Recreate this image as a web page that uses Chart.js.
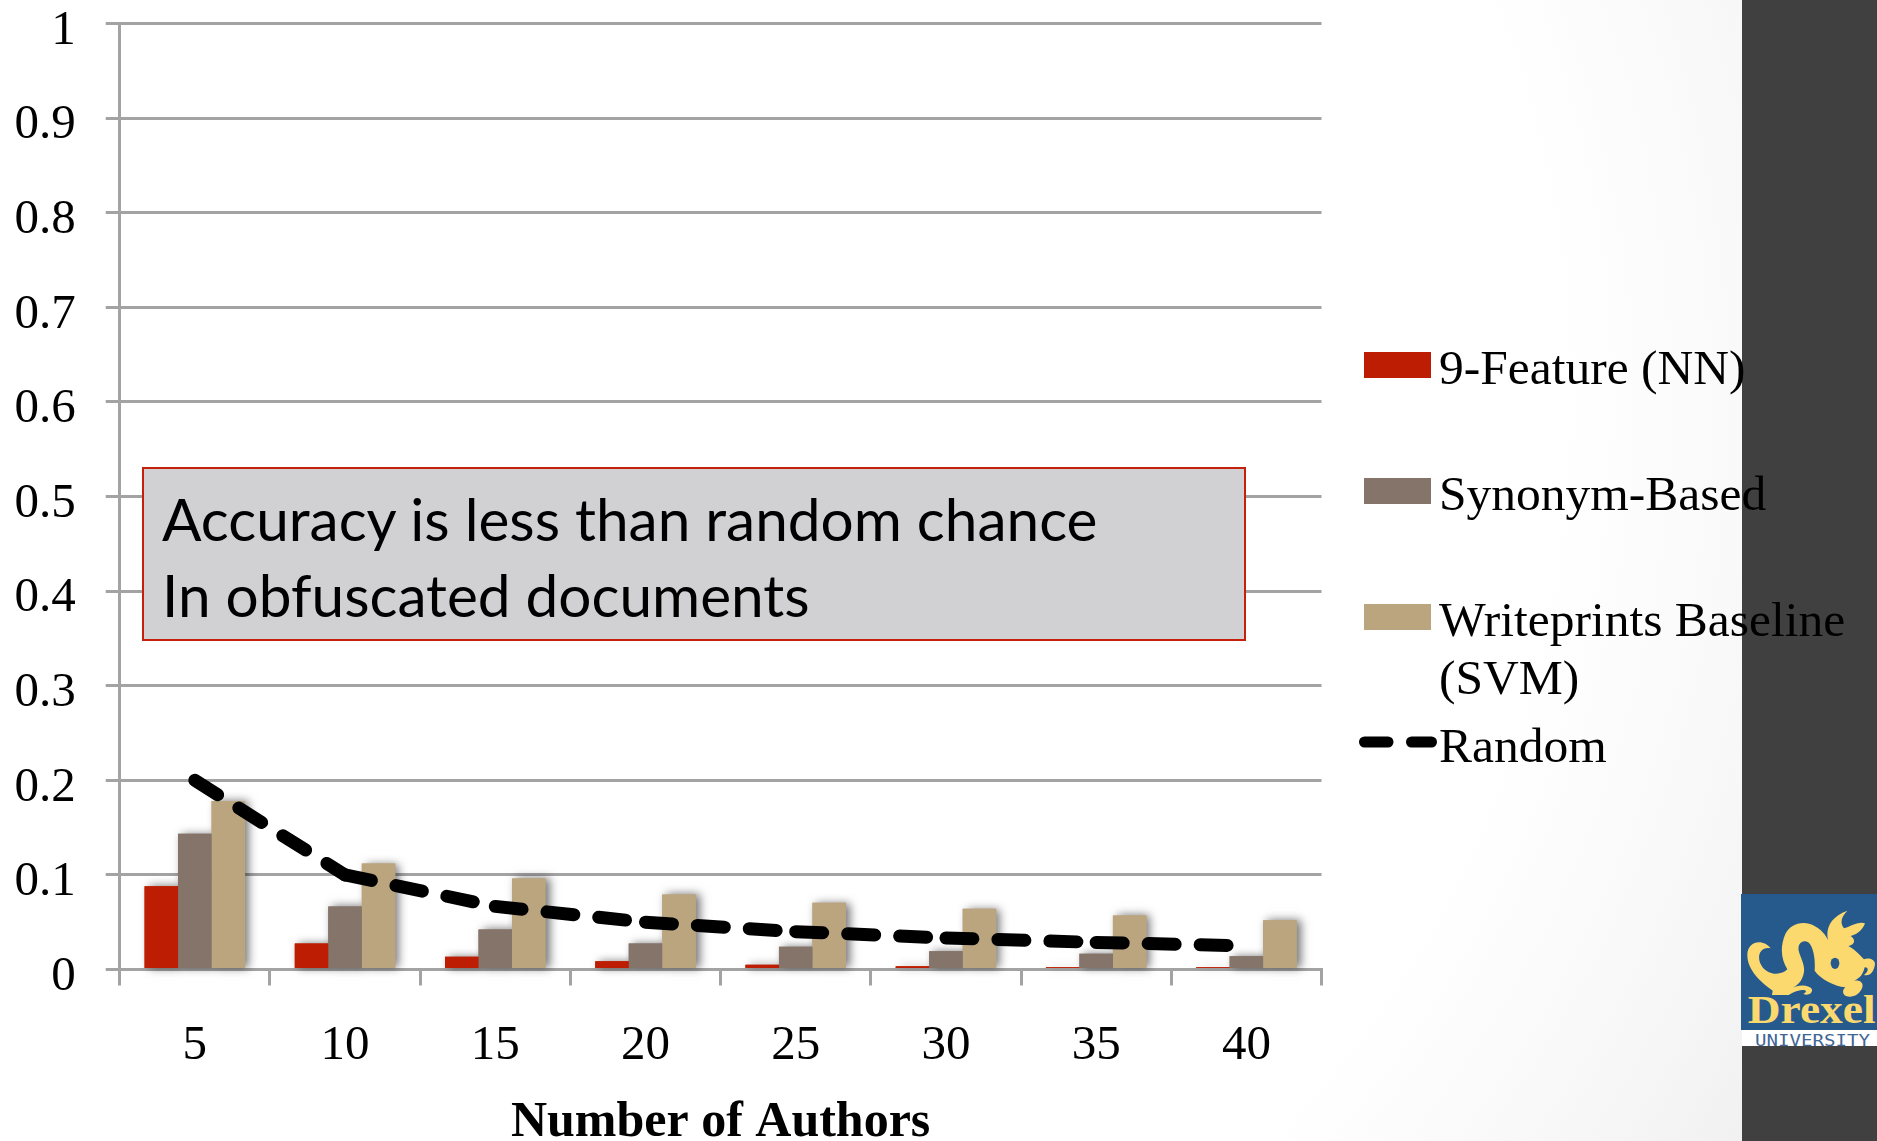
<!DOCTYPE html>
<html>
<head>
<meta charset="utf-8">
<title>Number of Authors</title>
<script src="https://cdn.jsdelivr.net/npm/chart.js@4"></script>
<style>
  html, body { margin: 0; padding: 0; }
  body {
    width: 1877px; height: 1141px; overflow: hidden; position: relative;
    background: radial-gradient(circle 1560px at 500px 400px, #fff 0, #fff 68%, #f8f8f8 82%, #ececec 100%);
  }
  #sidebar { position: absolute; left: 1742px; top: 0; width: 135px; height: 1141px; background: #404040; }
  #logo { position: absolute; left: 1741px; top: 894px; width: 136px; height: 152px; }
  #myChart { position: absolute; left: 0; top: 0; }
  #note {
    position: absolute; left: 142px; top: 467px; width: 1100px; height: 170px;
    background: #d1d1d4; border: 2px solid #c5200c;
    font: 58.500px Lato, sans-serif; color: #000; line-height: 76px;
  }
  #note div { position: absolute; left: 18px; white-space: nowrap; }
  .legend-text {
    position: absolute; left: 1439px; font: 49.500px/58px "Liberation Serif", serif;
    color: #000; white-space: nowrap;
  }
  .legend-box { position: absolute; left: 1364px; width: 67px; height: 26px; }
</style>
</head>
<body>
<div id="sidebar"></div>
<svg id="logo" viewBox="123 102 408 456">
  <rect x="123" y="102" width="408" height="408" fill="#265a8c"/>
  <rect x="126" y="510" width="405" height="48" fill="#fff"/>
  <path fill="#fbd96f" d="M212 265 C188 258 170 280 180 308 C195 345 240 350 262 328 C245 300 238 265 256 222
    C268 196 300 182 330 192 C352 200 372 215 384 240 C376 205 392 170 442 152 C422 172 420 190 432 205
    C450 200 475 182 495 190 C488 208 476 222 452 228 C470 240 462 255 445 258 C470 272 482 288 492 298
    C505 292 525 298 525 312 C522 335 510 350 492 345 C505 335 508 322 494 322 C488 345 480 355 462 362
    C482 358 492 370 486 385 C478 405 455 415 438 408 C425 402 428 388 436 382 C402 378 362 358 344 332
    C346 300 342 268 328 250 C312 236 292 248 296 272 C304 300 318 318 310 345 C302 372 285 380 270 388
    C290 374 325 372 336 388 C338 402 322 408 310 402 C322 396 320 388 305 390 C290 392 278 398 266 405
    L216 405 L218 392 C185 368 142 332 142 285 C142 240 192 236 212 265 Z"/>
  <ellipse cx="405" cy="310" rx="13" ry="17" fill="#265a8c"/>
  <text x="143" y="490" font-family="Liberation Serif, serif" font-weight="bold" font-size="118"
        fill="#fbd96f" textLength="384" lengthAdjust="spacingAndGlyphs">Drexel</text>
  <text x="165" y="557" font-family="DejaVu Sans Mono, monospace" font-size="46"
        fill="#3f6694" textLength="345" lengthAdjust="spacingAndGlyphs">UNIVERSITY</text>
</svg>
<canvas id="myChart" width="1877" height="1141"></canvas>
<div id="note">
  <div style="top:11px">Accuracy is less than random chance</div>
  <div style="top:87px">In obfuscated documents</div>
</div>
<div id="legend"></div>

<script>
const authors = ['5', '10', '15', '20', '25', '30', '35', '40'];
const yLabels = ['0', '0.1', '0.2', '0.3', '0.4', '0.5', '0.6', '0.7', '0.8', '0.9', '1'];

const nineFeature = [0.088, 0.0275, 0.0134, 0.0088, 0.005, 0.0035, 0.0025, 0.0025];
const synonymBased = [0.1436, 0.0667, 0.0423, 0.0275, 0.024, 0.0194, 0.0166, 0.0141];
const writeprints = [0.178, 0.112, 0.0963, 0.0794, 0.0705, 0.0641, 0.0571, 0.0521];
const randomChance = [0.2, 0.1, 0.0667, 0.05, 0.04, 0.0333, 0.0286, 0.025];

const axisGray = '#a3a3a3';
const red = '#bd1e03';
const brown = '#85746a';
const tan = '#baa57f';

// soft drop shadow: a first pass under all the bars, so no bar shades its neighbour
const barShadow = {
  id: 'barShadow',
  beforeDatasetsDraw(chart) {
    const ctx = chart.ctx;
    ctx.save();
    ctx.shadowColor = 'rgba(0,0,0,0.55)';
    ctx.shadowBlur = 9;
    ctx.shadowOffsetX = 4;
    chart.getSortedVisibleDatasetMetas().forEach(meta => {
      if (meta.type === 'bar') meta.data.forEach(bar => bar.draw(ctx));
    });
    ctx.restore();
  }
};

const data = {
  labels: authors,
  datasets: [
    { type: 'line', label: 'Random', data: randomChance, order: 0,
      borderColor: '#000', borderWidth: 13, borderDash: [27, 25], borderCapStyle: 'round',
      borderJoinStyle: 'round', pointRadius: 0, tension: 0, fill: false,
      // a different offset per segment makes each one stroke alone, so the dash restarts at every point
      segment: { borderDashOffset: ctx => ctx.p0DataIndex * 0.001 } },
    { label: '9-Feature (NN)', data: nineFeature, backgroundColor: red, order: 1 },
    { label: 'Synonym-Based', data: synonymBased, backgroundColor: brown, order: 2 },
    { label: 'Writeprints Baseline\n(SVM)', data: writeprints, backgroundColor: tan, order: 3 }
  ]
};

const config = {
  type: 'bar',
  data: data,
  plugins: [barShadow],
  options: {
    responsive: false,
    animation: false,
    layout: { padding: { top: 23.5, right: 555.5, bottom: 0, left: 0 } },
    datasets: { bar: { barPercentage: 1, categoryPercentage: 0.669 } },
    plugins: { legend: { display: false }, tooltip: { enabled: false } },
    scales: {
      x: {
        afterFit(scale) { scale.height = 171.5; scale.paddingLeft = 0; scale.paddingRight = 0; },
        grid: { offset: true, drawOnChartArea: false, color: axisGray, lineWidth: 3, tickLength: 16 },
        border: { color: axisGray, width: 3 },
        ticks: { color: '#000', padding: 31, maxRotation: 0,
          font: { family: 'Liberation Serif', size: 49 } },
        title: { display: true, text: 'Number of Authors', color: '#000', padding: { top: 0, bottom: -7 },
          font: { family: 'Liberation Serif', size: 50, weight: 'bold', lineHeight: 1 } }
      },
      y: {
        min: 0, max: 1,
        afterFit(scale) { scale.width = 119.7; scale.paddingTop = 0; scale.paddingBottom = 0; },
        grid: { color: axisGray, lineWidth: 3, tickLength: 14 },
        border: { color: axisGray, width: 3 },
        ticks: { stepSize: 0.1, color: '#000', padding: 30, labelOffset: 7.5,
          callback: (value, i) => yLabels[i],
          font: { family: 'Liberation Serif', size: 49 } }
      }
    }
  }
};

const myChart = new Chart(document.getElementById('myChart'), config);

// legend sits over the sidebar, so it is laid out by hand
const legend = document.getElementById('legend');
const boxTops = [352, 478, 604];
const textTops = [338.5, 464.5, 590.5, 716.5];

[1, 2, 3, 0].forEach((ds, i) => {
  const set = data.datasets[ds];
  set.label.split('\n').forEach((line, n) => {
    const t = document.createElement('div');
    t.className = 'legend-text';
    t.style.top = (textTops[i] + n * 58) + 'px';
    t.textContent = line;
    legend.appendChild(t);
  });
  if (set.type === 'line') return;
  const b = document.createElement('div');
  b.className = 'legend-box';
  b.style.top = boxTops[i] + 'px';
  b.style.background = set.backgroundColor;
  legend.appendChild(b);
});

const ns = 'http://www.w3.org/2000/svg';
const dash = document.createElementNS(ns, 'svg');
dash.setAttribute('width', '90');
dash.setAttribute('height', '20');
dash.style.cssText = 'position:absolute;left:1353px;top:732px';
dash.innerHTML = '<path d="M11.5 10H35M58.5 10H78.500" stroke="#000" stroke-width="11" stroke-linecap="round"/>';
legend.appendChild(dash);
</script>
</body>
</html>
